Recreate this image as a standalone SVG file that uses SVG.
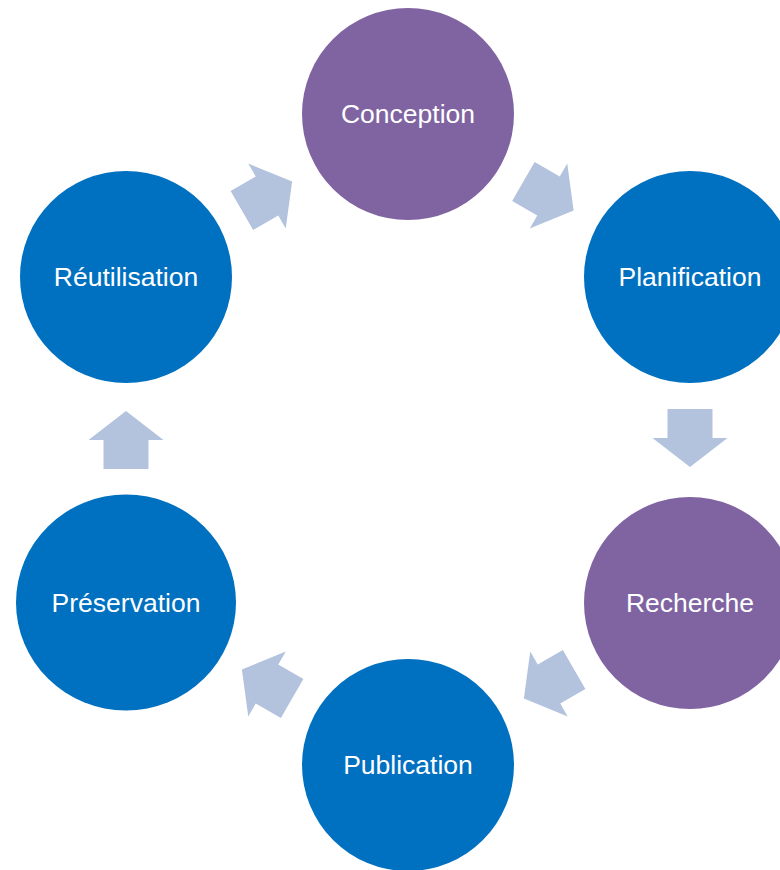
<svg xmlns="http://www.w3.org/2000/svg" width="780" height="870" viewBox="0 0 780 870">
<defs>
<style>
.purple{fill:#8064A2}
.blue{fill:#0070C0}
.lbl{fill:#FFFFFF;font-family:"Liberation Sans",Arial,sans-serif;font-size:26.5px;text-anchor:middle}
.arr{fill:#B3C3DE}
</style>
<polygon id="arrowShape" points="-29,-22.5 0,-22.5 0,-37.5 29,0 0,37.5 0,22.5 -29,22.5"/>
</defs>
<rect width="780" height="870" fill="#FFFFFF"/>
<g id="connectors">
<use href="#arrowShape" class="arr" transform="translate(548.5,196) rotate(30)"/>
<use href="#arrowShape" class="arr" transform="translate(690,438) rotate(90)"/>
<use href="#arrowShape" class="arr" transform="translate(549,684) rotate(150)"/>
<use href="#arrowShape" class="arr" transform="translate(267,684) rotate(210)"/>
<use href="#arrowShape" class="arr" transform="translate(126,440) rotate(270)"/>
<use href="#arrowShape" class="arr" transform="translate(267,196) rotate(-30)"/>
</g>
<g id="conception"><circle class="purple" cx="408" cy="114" r="106"/><text class="lbl" x="408" y="123">Conception</text></g>
<g id="planification"><circle class="blue" cx="690" cy="277" r="106"/><text class="lbl" x="690" y="286">Planification</text></g>
<g id="recherche"><circle class="purple" cx="690" cy="603" r="106"/><text class="lbl" x="690" y="612">Recherche</text></g>
<g id="publication"><circle class="blue" cx="408" cy="765" r="106"/><text class="lbl" x="408" y="774">Publication</text></g>
<g id="preservation"><ellipse class="blue" cx="126" cy="602.5" rx="110" ry="108"/><text class="lbl" x="126" y="612">Préservation</text></g>
<g id="reutilisation"><circle class="blue" cx="126" cy="277" r="106"/><text class="lbl" x="126" y="286">Réutilisation</text></g>
</svg>
